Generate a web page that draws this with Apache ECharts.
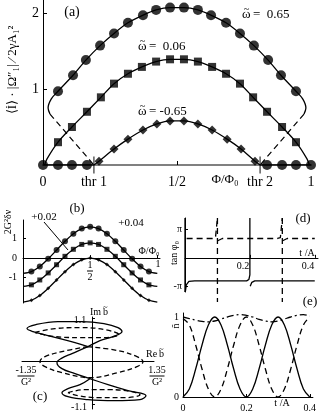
<!DOCTYPE html>
<html><head><meta charset="utf-8">
<script src="https://cdn.jsdelivr.net/npm/echarts@6/dist/echarts.min.js"></script>
<style>html,body{margin:0;padding:0;background:#fff}#c{width:319px;height:413px}</style>
</head><body><div id="c"></div>
<script>
// ---------- panel (a) ----------
const thr = [0.19, 0.81];
const aTickValues = [0, 0.19, 0.5, 0.81, 1];
const aTickLabels = ['0', 'thr 1', '1/2', 'thr 2', '1'];
const aCircleX = [0.056,0.112,0.160,0.213,0.265,0.317,0.373,0.422,0.474,0.526,0.578,0.627,0.683,0.735,0.787,0.840,0.888,0.944];
const aCircleY = [0.97,1.18,1.38,1.57,1.73,1.87,1.97,2.04,2.07,2.07,2.04,1.97,1.87,1.73,1.57,1.38,1.18,0.97];
const aCircleEndL = [[0.026,0.67],[0.019,0.75],[0.031,0.87]];
const aCircleEndR = [[0.969,0.87],[0.981,0.75],[0.974,0.67]];
const aDashL = [[0.026,0.67],[0.19,0.0]];
const aDashR = [[0.974,0.67],[0.81,0.0]];
const aSqX = [0.056,0.108,0.164,0.216,0.265,0.317,0.369,0.422,0.474,0.526,0.578,0.631,0.683,0.735,0.784,0.836,0.892,0.944];
const aSqY = [0.30,0.50,0.70,0.89,1.07,1.20,1.29,1.36,1.39,1.39,1.36,1.29,1.20,1.07,0.89,0.70,0.50,0.30];
const aSqEndL = [[0.006,0.0],[0.015,0.08]];
const aSqEndR = [[0.985,0.08],[0.994,0.0]];
const aDiaX = [0.209,0.265,0.317,0.373,0.425,0.474,0.526,0.578,0.631,0.687,0.739,0.791];
const aDiaY = [0.05,0.21,0.34,0.46,0.54,0.58,0.58,0.54,0.46,0.34,0.21,0.05];
const aZeroXL = [0,0.056,0.108,0.164];
const aZeroXR = [0.836,0.892,0.944,1];

// ---------- panel (b) ----------
const bX   = [0,0.0625,0.125,0.1875,0.25,0.3125,0.375,0.4375,0.5,0.5625,0.625,0.6875,0.75,0.8125,0.875,0.9375,1];
const bTop = [-0.78,-0.69,-0.43,-0.04,0.41,0.86,1.25,1.51,1.60,1.51,1.25,0.86,0.41,-0.04,-0.43,-0.69,-0.78];
const bMid = [-1.45,-1.37,-1.12,-0.76,-0.34,0.09,0.45,0.70,0.78,0.70,0.45,0.09,-0.34,-0.76,-1.12,-1.37,-1.45];
const bBot = [-2.25,-2.16,-1.92,-1.55,-1.12,-0.70,-0.33,-0.09,0.00,-0.09,-0.33,-0.70,-1.12,-1.55,-1.92,-2.16,-2.25];

// ---------- panel (c) ----------
const cSolidRe = [-0.083,-0.353,-0.832,-1.227,-1.351,-1.164,-0.707,-0.208,0.249,0.541,0.624,0.437,0.166,-0.083,-0.416,-0.644,-0.728,-0.624,-0.353,-0.042,0.333,0.748,1.123,0.998,0.478,-0.083,-0.499,-0.624,-0.499,-0.249,-0.042];
const cSolidIm = [0.384,0.486,0.639,0.767,0.844,0.946,1.023,1.023,0.972,0.870,0.767,0.639,0.537,0.384,0.205,0.077,-0.026,-0.179,-0.307,-0.435,-0.588,-0.742,-0.870,-0.972,-0.997,-0.972,-0.895,-0.793,-0.691,-0.588,-0.435];
const cDashRe = [-1.185,-0.769,-0.249,0.270,0.561,0.270,-0.249,-0.769,-1.185, null,
                 -0.083,-0.624,-0.977,-1.081,-0.977,-0.624,-0.042,0.541,0.936,1.060,0.936,0.541,-0.083, null,
                 -0.499,-0.146,0.374,0.832,0.998,0.686,0.166,-0.291,-0.499];
const cDashIm = [0.742,0.844,0.870,0.818,0.691,0.614,0.614,0.639,0.742, null,
                 0.384,0.256,0.128,0,-0.128,-0.281,-0.409,-0.281,-0.128,0,0.128,0.281,0.384, null,
                 -0.793,-0.716,-0.716,-0.767,-0.844,-0.921,-0.921,-0.870,-0.793];

// ---------- panel (d) ----------
const dSolid = [
  [[0,1.4],[0,-1.2]],
  [[0.001,-1.2],[0.004,-0.95],[0.012,-0.83],[0.03,-0.81],[0.19,-0.81],[0.197,-0.76],[0.2,-0.6],[0.2,1.4]],
  [[0.201,-1.0],[0.206,-0.86],[0.215,-0.81],[0.4,-0.81]]
];
const dDash = [
  [[0.005,0.68],[0.085,0.68],[0.094,0.71],[0.099,0.78],[0.1,1.4]],
  [[0.1,1.4],[0.1,-1.55]],
  [[0.101,0.6],[0.106,0.65],[0.115,0.68],[0.285,0.68],[0.294,0.71],[0.299,0.78],[0.3,1.4]],
  [[0.3,1.4],[0.3,-1.55]],
  [[0.301,0.6],[0.306,0.65],[0.315,0.68],[0.4,0.68]]
];

// ---------- panel (e) ----------
const eT       = [0,0.02,0.04,0.06,0.08,0.1,0.12,0.14,0.16,0.18,0.2,0.22,0.24,0.26,0.28,0.3,0.32,0.34,0.36,0.38,0.4];
const eSolid   = [0,0.1,0.35,0.65,0.9,1,0.9,0.65,0.35,0.1,0,0.1,0.35,0.65,0.9,1,0.9,0.65,0.35,0.1,0];
const eDash    = [0.98,0.9,0.65,0.35,0.1,0,0.1,0.35,0.65,0.9,1,0.9,0.65,0.35,0.1,0,0.1,0.35,0.65,0.9,1];
const eDashDot = [1.0,0.98,0.96,0.945,0.94,0.95,0.975,1.0,1.02,1.03,1.02,1.0,0.97,0.95,0.94,0.95,0.975,1.0,1.02,1.03,1.01];

// ---------- build ----------
const F = "'Liberation Serif', 'Times New Roman', serif";
const K = '#000';
const zip = (xs, ys) => xs.map((x, i) => (x === null ? null : [x, ys[i]]));
const segs = arr => { const out = []; let cur = []; arr.forEach(p => { if (p === null) { out.push(cur); cur = []; } else cur.push(p); }); out.push(cur); return out; };

const aCircPts = zip(aCircleX, aCircleY);
const aSqPts = zip(aSqX, aSqY);
const aDiaPts = zip(aDiaX, aDiaY);

function lineS(g, data, opt) {
  return Object.assign({ type: 'line', xAxisIndex: g, yAxisIndex: g, data, symbol: 'none', silent: true,
    lineStyle: { color: K, width: 1.3 } }, opt || {});
}
function scat(g, data, sym, size) {
  return { type: 'scatter', xAxisIndex: g, yAxisIndex: g, data, symbol: sym, symbolSize: size,
    itemStyle: { color: K }, silent: true, z: 5 };
}

const series = [];
// (a)
series.push(lineS(0, [...aCircleEndL, ...aCircPts, ...aCircleEndR], { smooth: 0.3 }));
series.push(scat(0, aCircPts, 'circle', 10));
series.push(lineS(0, aDashL, { lineStyle: { color: K, width: 1.2, type: [6, 4] } }));
series.push(lineS(0, aDashR, { lineStyle: { color: K, width: 1.2, type: [6, 4] } }));
series.push(lineS(0, [...aSqEndL, ...aSqPts, ...aSqEndR], { smooth: 0.3 }));
series.push(scat(0, aSqPts, 'rect', 8));
series.push(lineS(0, [[thr[0], 0], ...aDiaPts, [thr[1], 0]], { smooth: 0.3 }));
series.push(scat(0, aDiaPts, 'diamond', 9));
series.push(lineS(0, [[0, 0], [thr[0], 0]], { lineStyle: { color: K, width: 1.5 } }));
series.push(lineS(0, [[thr[1], 0], [1, 0]], { lineStyle: { color: K, width: 1.5 } }));
series.push(scat(0, aZeroXL.map(x => [x, 0]), 'circle', 10));
series.push(scat(0, aZeroXR.map(x => [x, 0]), 'circle', 10));
series.push(scat(0, thr.map(x => [x, 0]), 'rect', [1.2, 17]));
// (b)
const bTopP = zip(bX, bTop), bMidP = zip(bX, bMid), bBotP = zip(bX, bBot);
series.push(lineS(1, bTopP, { smooth: 0.3 }));
series.push(scat(1, bTopP.slice(1, -1), 'circle', 6));
series.push(lineS(1, bMidP, { smooth: 0.3 }));
series.push(scat(1, bMidP.slice(1, -1), 'rect', 5));
series.push(lineS(1, bBotP, { smooth: 0.3 }));
series.push(scat(1, bBotP.slice(1, -1), 'diamond', 4));
// (c)
segs(zip(cSolidRe, cSolidIm)).forEach(s => series.push(lineS(2, s, { smooth: 0.4 })));
segs(zip(cDashRe, cDashIm)).forEach(s => series.push(lineS(2, s, { smooth: 0.4, lineStyle: { color: K, width: 1.3, type: [5, 3] } })));
// (d)
dSolid.forEach(s => series.push(lineS(3, s, { clip: false })));
dDash.forEach(s => series.push(lineS(3, s, { clip: false, lineStyle: { color: K, width: 1.3, type: [6, 4] } })));
// (e)
series.push(lineS(4, zip(eT, eSolid), { smooth: 0.4 }));
series.push(lineS(4, zip(eT, eDash), { smooth: 0.4, lineStyle: { color: K, width: 1.3, type: [6, 4] } }));
series.push(lineS(4, zip(eT, eDashDot), { smooth: 0.4, lineStyle: { color: K, width: 1.3, type: [7, 3, 2, 3] } }));

const ax = (o) => Object.assign({ type: 'value', splitLine: { show: false },
  axisLine: { show: true, lineStyle: { color: K, width: 1 } }, axisTick: { show: false },
  axisLabel: { show: false, color: K, fontFamily: F } }, o);

const xAxis = [
  ax({ gridIndex: 0, min: 0, max: 1, axisLine: { show: true, onZero: true, lineStyle: { color: '#808080', width: 2 } },
       axisTick: { show: true, inside: true, length: 4, customValues: [0.5], lineStyle: { color: K } },
       axisLabel: { show: true, color: K, fontFamily: F, fontSize: 14, margin: 10, customValues: aTickValues,
         formatter: v => aTickLabels[aTickValues.findIndex(t => Math.abs(t - v) < 1e-6)] || '' } }),
  ax({ gridIndex: 1, min: 0, max: 1.02, axisLine: { show: true, onZero: true, lineStyle: { color: K, width: 1 } },
       axisTick: { show: true, inside: true, length: 3, customValues: [0.5, 1], lineStyle: { color: K } } }),
  ax({ gridIndex: 2, min: -1.455, max: 1.29, axisLine: { show: true, onZero: true, lineStyle: { color: K } } }),
  ax({ gridIndex: 3, min: 0, max: 0.41, axisLine: { show: true, onZero: true, lineStyle: { color: K } },
       axisTick: { show: true, inside: true, length: 3, customValues: [0.2, 0.4], lineStyle: { color: K } } }),
  ax({ gridIndex: 4, min: 0, max: 0.41, axisLine: { show: true, onZero: true, lineStyle: { color: K } },
       axisTick: { show: true, inside: true, length: 3, customValues: [0.2, 0.4], lineStyle: { color: K } },
       axisLabel: { show: true, color: K, fontFamily: F, fontSize: 10, margin: 6, customValues: [0, 0.2, 0.4], formatter: v => v === 0 ? '0' : v.toFixed(1) } })
];
const yAxis = [
  ax({ gridIndex: 0, min: 0, max: 2.17, axisLine: { show: true, onZero: false, lineStyle: { color: K, width: 1 } },
       axisTick: { show: true, inside: true, length: 4, customValues: [1, 2], lineStyle: { color: K } },
       axisLabel: { show: true, color: K, fontFamily: F, fontSize: 14, margin: 4, customValues: [1, 2] } }),
  ax({ gridIndex: 1, min: -2.3, max: 1.95, axisLine: { show: true, onZero: false, lineStyle: { color: K } },
       axisTick: { show: true, inside: true, length: 3, customValues: [-1, 0, 1], lineStyle: { color: K } },
       axisLabel: { show: true, color: K, fontFamily: F, fontSize: 10, margin: 6, customValues: [-1, 0, 1] } }),
  ax({ gridIndex: 2, min: -1.21, max: 1.14, axisLine: { show: true, onZero: true, lineStyle: { color: K } },
       axisTick: { show: true, inside: true, length: 3, customValues: [-1.1, 1.1], lineStyle: { color: K } } }),
  ax({ gridIndex: 3, min: -1.2, max: 1.4, axisLine: { show: true, onZero: false, lineStyle: { color: K } },
       axisTick: { show: true, inside: true, length: 3, customValues: [-1, 1], lineStyle: { color: K } },
       axisLabel: { show: true, color: K, fontFamily: F, fontSize: 10, margin: 3, customValues: [-1, 1], formatter: v => v > 0 ? 'π' : '-π' } }),
  ax({ gridIndex: 4, min: 0, max: 1.05, axisLine: { show: true, onZero: false, lineStyle: { color: K } },
       axisTick: { show: true, inside: true, length: 3, customValues: [0, 1], lineStyle: { color: K } },
       axisLabel: { show: true, color: K, fontFamily: F, fontSize: 10, margin: 4, customValues: [0, 1] } })
];

function T(text, x, y, size, extra, align) {
  return Object.assign({ type: 'text', x, y, silent: true, z: 10,
    style: { text, font: size + 'px ' + F, fill: K, align: align || 'center', verticalAlign: 'middle' } }, extra || {});
}
function frac(num, den, x, y, size, w) {
  return [T(num, x, y - 6, size), { type: 'rect', shape: { x: x - w / 2, y: y - 0.5, width: w, height: 1 }, style: { fill: K }, silent: true },
          T(den, x, y + 6, size)];
}
// letter with a tilde accent above, followed by text
function tl(ch, rest, x, y, size, chW) {
  return [T(ch, x, y, size, null, 'left'), T('~', x + chW / 2, y - size * 0.42, size * 0.8),
          T(rest, x + chW + 2, y, size, null, 'left')];
}
const graphic = [
  T('(a)', 72, 12, 14),
  ...tl('ω', '=  0.65', 242, 15, 13, 9),
  ...tl('ω', '=  0.06', 138, 47, 13, 9),
  ...tl('ω', '= -0.65', 138, 112, 13, 9),
  T('Φ/Φ₀', 225, 180, 13),
  T('⟨İ⟩ · |Ω″₁| ⁄ 2γA₁²', 13, 70, 13, { rotation: Math.PI / 2 }),
  T('(b)', 77, 209, 13),
  T('+0.02', 44, 217, 11),
  T('+0.04', 131, 223, 11),
  { type: 'line', shape: { x1: 44, y1: 222, x2: 68, y2: 250 }, style: { stroke: K, lineWidth: 1 }, silent: true },
  T('Φ/Φ₀', 149, 251, 10),
  T('1', 158, 264, 10),
  ...frac('1', '2', 90, 271, 10, 6),
  T('2G²δν', 8, 222, 10, { rotation: Math.PI / 2 }),
  T('Im', 90, 312, 10, null, 'left'), ...tl('b', '', 103, 312, 10, 5),
  T('Re', 146, 354, 10, null, 'left'), ...tl('b', '', 159, 354, 10, 5),
  T('1.1', 80, 320, 10),
  T('-1.1', 79, 407, 10),
  ...frac('-1.35', 'G²', 26, 376, 10, 17),
  ...frac('1.35', 'G²', 157, 376, 10, 15),
  T('(c)', 40, 397, 13),
  T('(d)', 303, 219, 13),
  T('t /A', 307, 253, 10),
  T('0.2', 243, 266, 10),
  T('0.4', 308, 266, 10),
  T('tan φ₀', 174, 253, 10, { rotation: Math.PI / 2 }),
  T('(e)', 310, 302, 13),
  T('ñ', 176, 326, 10, { rotation: Math.PI / 2 }),
  T('t /A', 282, 403, 10)
];

const chart = echarts.init(document.getElementById('c'), null, { renderer: 'canvas' });
chart.setOption({
  animation: false,
  textStyle: { fontFamily: F, color: K },
  grid: [
    { left: 43, top: 0, width: 268, height: 165 },
    { left: 23, top: 220, width: 137, height: 83 },
    { left: 22, top: 317, width: 132, height: 92 },
    { left: 185, top: 218, width: 133, height: 74 },
    { left: 183, top: 313, width: 133, height: 84 }
  ],
  xAxis, yAxis, series, graphic
});
</script></body></html>
